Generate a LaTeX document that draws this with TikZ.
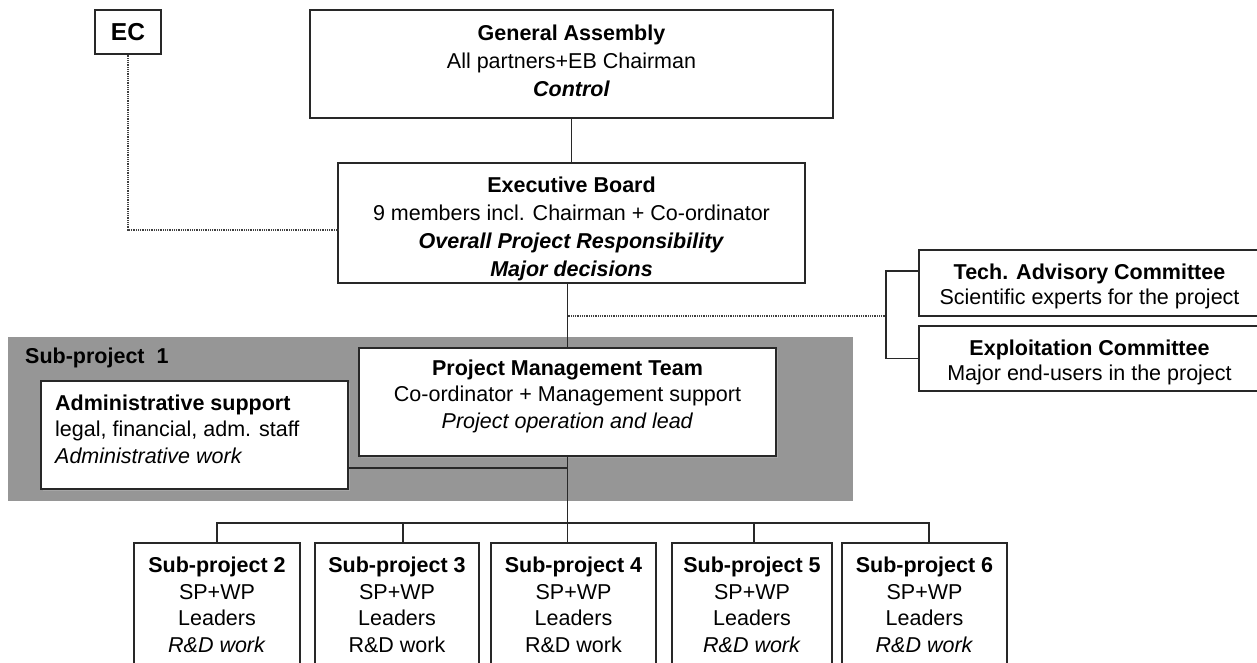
\documentclass[tikz,border=0pt]{standalone}
\usepackage{fontspec}
\setmainfont{Liberation Sans}
\usetikzlibrary{shadows}
\definecolor{spgray}{RGB}{150,150,150}
\definecolor{lineink}{RGB}{40,40,40}
\newcommand\fsA{\fontsize{21.5}{28}\selectfont}
\newcommand\fsB{\fontsize{21.5}{26.5}\selectfont}
\newcommand\fsC{\fontsize{21.5}{25}\selectfont}
\tikzset{
  box/.style={draw=lineink, line width=1.1pt, fill=white, inner sep=0pt, align=center},
  shbox/.style={box, drop shadow={shadow xshift=1.8pt, shadow yshift=-1.8pt, fill=black!35, opacity=1}},
  txt/.style={inner sep=0pt, align=center},
  conn/.style={draw=lineink, line width=1.1pt},
  dotconn/.style={draw=black!75, line width=1.3pt, dash pattern=on 1pt off 0.8pt},
  sub/.style={box, minimum width=#1, minimum height=124, font=\fsB},
}
\begin{document}
\begin{tikzpicture}[x=1pt, y=-1pt]
\clip (0,0) rectangle (1257,663);
\fill[white] (0,0) rectangle (1257,663);

% top part
\node[box, minimum width=66, minimum height=44, font=\fontsize{24.5}{28}\selectfont\bfseries] (ec) at (128,32) {EC};
\node[box, minimum width=523, minimum height=108] (ga) at (571.5,64) {};
\node[txt, font=\fsA] (gat) at (571.5,60.5)
  {\textbf{General Assembly}\\All partners+EB Chairman\\\textbf{\textit{Control}}};
\node[box, minimum width=467, minimum height=120] (eb) at (571.5,223) {};
\node[txt, font=\fsA] (ebt) at (571.5,228.5)
  {\textbf{Executive Board}\\9 members incl. Chairman + Co-ordinator\\\textbf{\textit{Overall Project Responsibility}}\\\textbf{\textit{Major decisions}}};

% committees
\node[box, minimum width=341, minimum height=66] (tech) at (1089.5,283) {};
\node[txt, font=\fsC] (techt) at (1089.5,286)
  {\textbf{Tech. Advisory Committee}\\Scientific experts for the project};
\node[box, minimum width=341, minimum height=65] (expl) at (1089.5,358.5) {};
\node[txt, font=\fsC] (explt) at (1089.5,362)
  {\textbf{Exploitation Committee}\\Major end-users in the project};

% sub-project 1
\node[fill=spgray, inner sep=0pt, minimum width=845, minimum height=164] (sp1) at (430.5,419) {};
\node[anchor=west, inner sep=0pt, font=\fsA\bfseries] (sp1t) at (25,358) {Sub-project\ \ 1};
\node[shbox, minimum width=417, minimum height=108] (pmt) at (567.5,402) {};
\node[txt, font=\fsB] (pmtt) at (567.5,396)
  {\textbf{Project Management Team}\\Co-ordinator + Management support\\\textit{Project operation and lead}};
\node[shbox, minimum width=307, minimum height=108] (adm) at (194.5,435) {};
\node[anchor=west, inner sep=0pt, align=left, font=\fsB] (admt) at (55,429)
  {\textbf{Administrative support}\\legal, financial, adm. staff\\\textit{Administrative work}};

% sub-projects 2..6
\node[sub=166] (s2) at (217,605) {\textbf{Sub-project 2}\\SP+WP\\Leaders\\\textit{R\&D work}};
\node[sub=164] (s3) at (397,605) {\textbf{Sub-project 3}\\SP+WP\\Leaders\\R\&D work};
\node[sub=165] (s4) at (573.5,605) {\textbf{Sub-project 4}\\SP+WP\\Leaders\\R\&D work};
\node[sub=160] (s5) at (752,605) {\textbf{Sub-project 5}\\SP+WP\\Leaders\\\textit{R\&D work}};
\node[sub=165] (s6) at (924.5,605) {\textbf{Sub-project 6}\\SP+WP\\Leaders\\\textit{R\&D work}};

% connectors
\coordinate (ecj) at (338,230);
\coordinate (br) at (886,316);
\coordinate (aj) at (568,468);
\coordinate (bus) at (568,523);

\draw[conn] (ga.south) -- (eb.north);
\draw[dotconn] (ec.south) |- (ecj);
\draw[conn] (pmt.north) -- (pmt.north |- eb.south);
\draw[dotconn] (pmt.north |- br) -- (br);
\draw[conn] ([yshift=12pt]tech.west) -| (br) |- (expl.west);
\draw[conn] (adm.east |- aj) -- (aj);
\draw[conn] (pmt.south) -- (pmt.south |- s4.north);
\draw[conn] (s2.north) -- (s2.north |- bus) -- ([xshift=4.5pt]s6.north |- bus) -- ([xshift=4.5pt]s6.north);
\draw[conn] ([xshift=6pt]s3.north) -- ([xshift=6pt]s3.north |- bus);
\draw[conn] ([xshift=2pt]s5.north) -- ([xshift=2pt]s5.north |- bus);
\end{tikzpicture}
\end{document}
